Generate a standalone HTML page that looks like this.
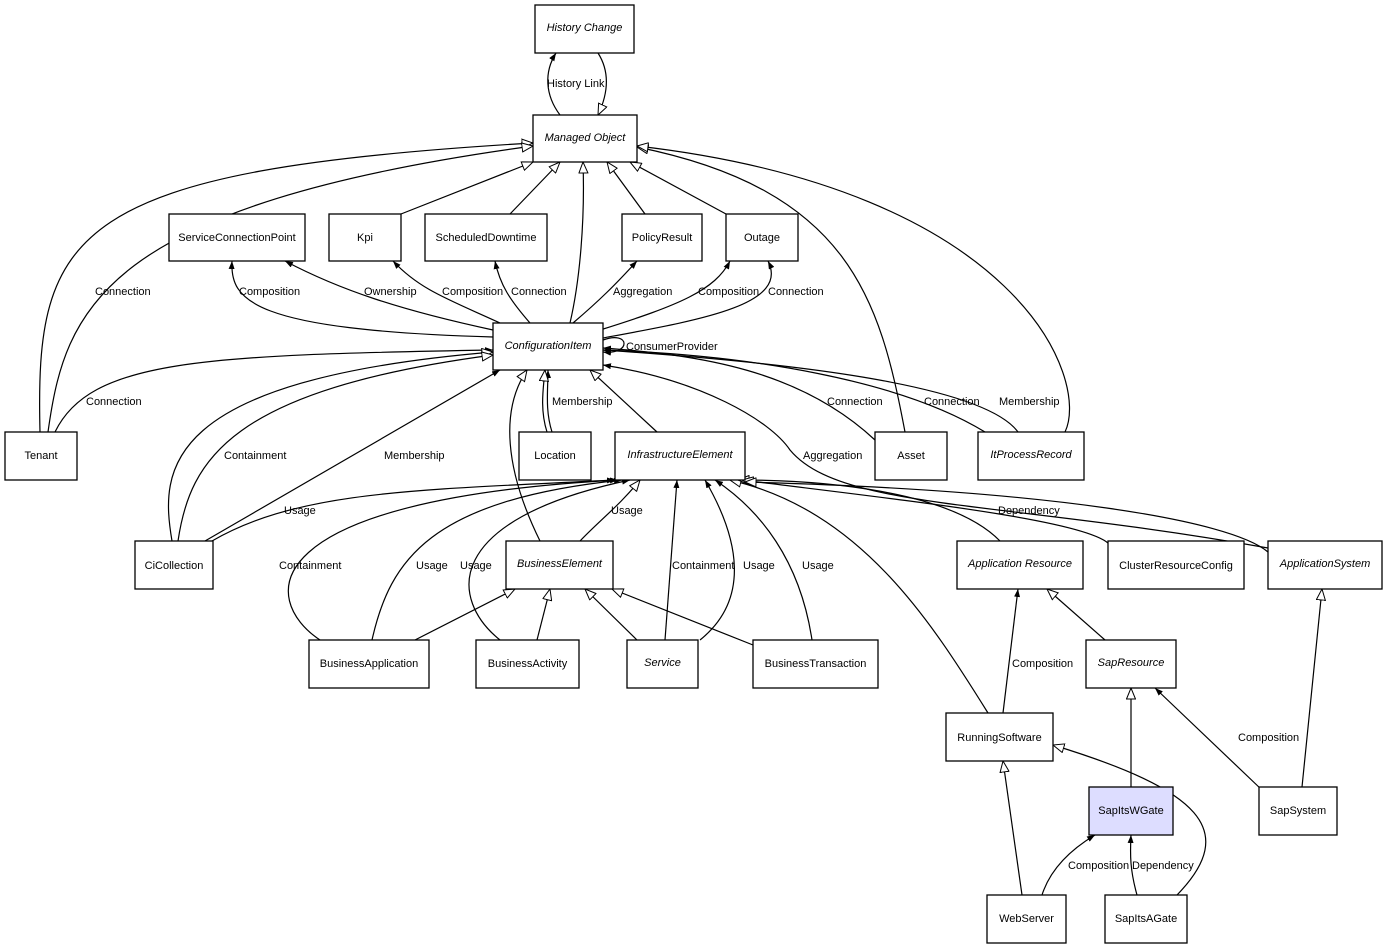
<!DOCTYPE html>
<html><head><meta charset="utf-8"><style>
body{margin:0;background:#fff;width:1387px;height:951px;overflow:hidden}
svg{display:block}
text{font-family:"Liberation Sans",Arial,sans-serif;font-size:11px;fill:#000}
.n{fill:#fff;stroke:#000;stroke-width:1.3}
.e{fill:none;stroke:#000;stroke-width:1.2}
.i{font-style:italic}
</style></head><body>
<svg width="1387" height="951" viewBox="0 0 1387 951">
<defs>
<marker id="h" viewBox="0 0 12 10" refX="11.5" refY="5" markerWidth="12" markerHeight="10" markerUnits="userSpaceOnUse" orient="auto"><path d="M0.5,0.5 L11.5,5 L0.5,9.5 Z" fill="#fff" stroke="#000" stroke-width="1"/></marker>
<marker id="f" viewBox="0 0 8 6" refX="8" refY="3" markerWidth="8" markerHeight="6" markerUnits="userSpaceOnUse" orient="auto"><path d="M0,0 L8,3 L0,6 Z" fill="#000"/></marker>
</defs>
<g class="e">
<path d="M560,115 C545,95 544,72 556,53" marker-end="url(#f)"/>
<path d="M598,53 C612,75 606,98 598,115" marker-end="url(#h)"/>
<path d="M40,432 C35,230 70,170 533,143" marker-end="url(#h)"/>
<path d="M48,432 C65,310 100,205 533,146" marker-end="url(#h)"/>
<path d="M401,214 L533,162" marker-end="url(#h)"/>
<path d="M510,214 L560,162" marker-end="url(#h)"/>
<path d="M570,323 C580,280 585,220 583,162" marker-end="url(#h)"/>
<path d="M645,214 L607,162" marker-end="url(#h)"/>
<path d="M726,214 L630,162" marker-end="url(#h)"/>
<path d="M905,432 C880,300 850,190 637,147" marker-end="url(#h)"/>
<path d="M1065,432 C1090,380 1020,190 637,146" marker-end="url(#h)"/>
<path d="M493,337 C250,330 230,300 232,261" marker-end="url(#f)"/>
<path d="M493,330 C400,310 340,290 285,261" marker-end="url(#f)"/>
<path d="M500,323 C450,300 420,290 393,261" marker-end="url(#f)"/>
<path d="M530,323 C510,300 500,285 495,261" marker-end="url(#f)"/>
<path d="M573,323 C600,300 615,285 637,261" marker-end="url(#f)"/>
<path d="M600,330 C680,305 715,290 730,261" marker-end="url(#f)"/>
<path d="M603,338 C700,320 790,305 768,261" marker-end="url(#f)"/>
<path d="M603,340 C630,330 632,355 603,352" marker-end="url(#f)"/>
<path d="M875,440 C800,370 700,355 603,348" marker-end="url(#f)"/>
<path d="M985,432 C900,380 750,355 603,350" marker-end="url(#f)"/>
<path d="M1018,432 C980,380 750,360 603,350" marker-end="url(#f)"/>
<path d="M1268,548 C1000,500 840,510 790,450 C770,420 700,380 603,365" marker-end="url(#f)"/>
<path d="M657,432 L590,370" marker-end="url(#h)"/>
<path d="M552,432 C545,410 548,390 548,370" marker-end="url(#f)"/>
<path d="M547,432 C540,410 543,390 545,370" marker-end="url(#h)"/>
<path d="M540,541 C505,470 500,410 527,370" marker-end="url(#h)"/>
<path d="M55,432 C90,360 200,355 493,350" marker-end="url(#f)"/>
<path d="M172,541 C160,470 160,380 493,352" marker-end="url(#h)"/>
<path d="M178,541 C190,460 230,390 493,355" marker-end="url(#h)"/>
<path d="M205,541 L500,370" marker-end="url(#f)"/>
<path d="M212,541 C300,490 420,490 615,480" marker-end="url(#f)"/>
<path d="M320,640 C260,600 250,500 618,480" marker-end="url(#f)"/>
<path d="M372,640 C390,560 430,500 622,480" marker-end="url(#f)"/>
<path d="M500,640 C450,600 440,520 630,480" marker-end="url(#f)"/>
<path d="M580,541 C600,520 620,505 640,480" marker-end="url(#h)"/>
<path d="M665,640 L677,480" marker-end="url(#f)"/>
<path d="M700,640 C750,600 740,540 705,480" marker-end="url(#f)"/>
<path d="M812,640 C800,560 760,510 715,480" marker-end="url(#f)"/>
<path d="M988,713 C930,620 860,510 730,480" marker-end="url(#h)"/>
<path d="M1000,541 C950,490 820,480 738,480" marker-end="url(#h)"/>
<path d="M1110,545 C1090,520 900,500 742,480" marker-end="url(#h)"/>
<path d="M1268,552 C1230,520 1050,490 745,482" marker-end="url(#h)"/>
<path d="M415,640 L515,589" marker-end="url(#h)"/>
<path d="M537,640 L550,589" marker-end="url(#h)"/>
<path d="M637,640 L585,589" marker-end="url(#h)"/>
<path d="M753,645 L612,589" marker-end="url(#h)"/>
<path d="M1105,640 L1047,589" marker-end="url(#h)"/>
<path d="M1003,713 L1018,589" marker-end="url(#f)"/>
<path d="M1302,787 L1322,589" marker-end="url(#h)"/>
<path d="M1262,790 L1155,688" marker-end="url(#f)"/>
<path d="M1131,787 L1131,688" marker-end="url(#h)"/>
<path d="M1022,895 L1003,761" marker-end="url(#h)"/>
<path d="M1042,895 C1050,870 1070,850 1095,835" marker-end="url(#f)"/>
<path d="M1137,895 C1130,870 1130,855 1131,835" marker-end="url(#f)"/>
<path d="M1177,895 C1240,830 1200,790 1053,745" marker-end="url(#h)"/>
</g>
<g>
<rect class="n" x="535" y="5" width="99" height="48"/><text class="i" x="584.5" y="31" text-anchor="middle">History Change</text>
<rect class="n" x="533" y="115" width="104" height="47"/><text class="i" x="585" y="141" text-anchor="middle">Managed Object</text>
<rect class="n" x="169" y="214" width="136" height="47"/><text x="237" y="241" text-anchor="middle">ServiceConnectionPoint</text>
<rect class="n" x="329" y="214" width="72" height="47"/><text x="365" y="241" text-anchor="middle">Kpi</text>
<rect class="n" x="425" y="214" width="122" height="47"/><text x="486" y="241" text-anchor="middle">ScheduledDowntime</text>
<rect class="n" x="622" y="214" width="80" height="47"/><text x="662" y="241" text-anchor="middle">PolicyResult</text>
<rect class="n" x="726" y="214" width="72" height="47"/><text x="762" y="241" text-anchor="middle">Outage</text>
<rect class="n" x="493" y="323" width="110" height="47"/><text class="i" x="548" y="349" text-anchor="middle">ConfigurationItem</text>
<rect class="n" x="5" y="432" width="72" height="48"/><text x="41" y="459" text-anchor="middle">Tenant</text>
<rect class="n" x="519" y="432" width="72" height="48"/><text x="555" y="459" text-anchor="middle">Location</text>
<rect class="n" x="615" y="432" width="130" height="48"/><text class="i" x="680" y="458" text-anchor="middle">InfrastructureElement</text>
<rect class="n" x="875" y="432" width="72" height="48"/><text x="911" y="459" text-anchor="middle">Asset</text>
<rect class="n" x="978" y="432" width="106" height="48"/><text class="i" x="1031" y="458" text-anchor="middle">ItProcessRecord</text>
<rect class="n" x="135" y="541" width="78" height="48"/><text x="174" y="569" text-anchor="middle">CiCollection</text>
<rect class="n" x="506" y="541" width="107" height="48"/><text class="i" x="559.5" y="567" text-anchor="middle">BusinessElement</text>
<rect class="n" x="957" y="541" width="126" height="48"/><text class="i" x="1020" y="567" text-anchor="middle">Application Resource</text>
<rect class="n" x="1108" y="541" width="136" height="48"/><text x="1176" y="569" text-anchor="middle">ClusterResourceConfig</text>
<rect class="n" x="1268" y="541" width="114" height="48"/><text class="i" x="1325" y="567" text-anchor="middle">ApplicationSystem</text>
<rect class="n" x="309" y="640" width="120" height="48"/><text x="369" y="667" text-anchor="middle">BusinessApplication</text>
<rect class="n" x="476" y="640" width="103" height="48"/><text x="527.5" y="667" text-anchor="middle">BusinessActivity</text>
<rect class="n" x="627" y="640" width="71" height="48"/><text class="i" x="662.5" y="666" text-anchor="middle">Service</text>
<rect class="n" x="753" y="640" width="125" height="48"/><text x="815.5" y="667" text-anchor="middle">BusinessTransaction</text>
<rect class="n" x="1086" y="640" width="90" height="48"/><text class="i" x="1131" y="666" text-anchor="middle">SapResource</text>
<rect class="n" x="946" y="713" width="107" height="48"/><text x="999.5" y="741" text-anchor="middle">RunningSoftware</text>
<rect class="n" x="1089" y="787" width="84" height="48" style="fill:#ddddff"/><text x="1131" y="814" text-anchor="middle">SapItsWGate</text>
<rect class="n" x="1259" y="787" width="78" height="48"/><text x="1298" y="814" text-anchor="middle">SapSystem</text>
<rect class="n" x="987" y="895" width="79" height="48"/><text x="1026.5" y="922" text-anchor="middle">WebServer</text>
<rect class="n" x="1105" y="895" width="82" height="48"/><text x="1146" y="922" text-anchor="middle">SapItsAGate</text>
</g>
<g>
<text x="547" y="87">History Link</text>
<text x="95" y="295">Connection</text>
<text x="239" y="295">Composition</text>
<text x="364" y="295">Ownership</text>
<text x="442" y="295">Composition</text>
<text x="511" y="295">Connection</text>
<text x="613" y="295">Aggregation</text>
<text x="698" y="295">Composition</text>
<text x="768" y="295">Connection</text>
<text x="626" y="350">ConsumerProvider</text>
<text x="86" y="405">Connection</text>
<text x="552" y="405">Membership</text>
<text x="827" y="405">Connection</text>
<text x="924" y="405">Connection</text>
<text x="999" y="405">Membership</text>
<text x="224" y="459">Containment</text>
<text x="384" y="459">Membership</text>
<text x="803" y="459">Aggregation</text>
<text x="284" y="514">Usage</text>
<text x="611" y="514">Usage</text>
<text x="998" y="514">Dependency</text>
<text x="279" y="569">Containment</text>
<text x="416" y="569">Usage</text>
<text x="460" y="569">Usage</text>
<text x="672" y="569">Containment</text>
<text x="743" y="569">Usage</text>
<text x="802" y="569">Usage</text>
<text x="1012" y="667">Composition</text>
<text x="1238" y="741">Composition</text>
<text x="1068" y="869">Composition</text>
<text x="1132" y="869">Dependency</text>
</g>
</svg>
</body></html>
